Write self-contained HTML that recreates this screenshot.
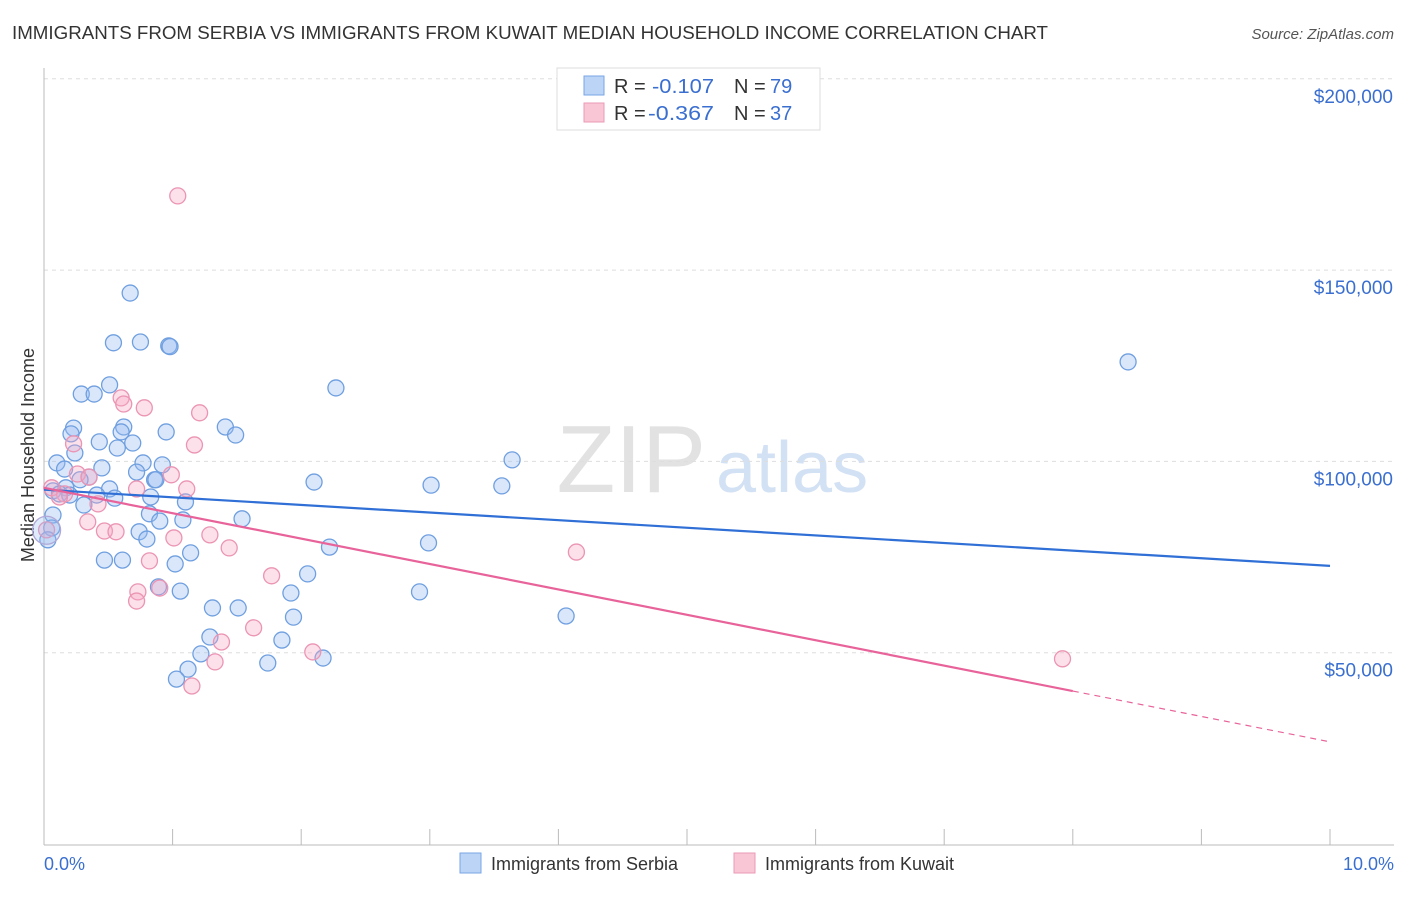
<!DOCTYPE html>
<html><head><meta charset="utf-8"><style>
body{margin:0;background:#fff;font-family:"Liberation Sans",sans-serif;}
svg text{font-family:"Liberation Sans",sans-serif;}
</style></head><body>
<svg id="chart" width="1406" height="892">
<text x="12" y="39" font-size="18" fill="#333" textLength="1036" lengthAdjust="spacingAndGlyphs">IMMIGRANTS FROM SERBIA VS IMMIGRANTS FROM KUWAIT MEDIAN HOUSEHOLD INCOME CORRELATION CHART</text>
<text x="1394" y="39" font-size="15" fill="#555" font-style="italic" text-anchor="end">Source: ZipAtlas.com</text>
<text x="706" y="492" font-size="96" fill="#e2e2e2" text-anchor="end" font-family="Liberation Serif">ZIP</text>
<text x="716" y="492" font-size="72" fill="#d3e1f4">atlas</text>
<text transform="translate(34,455) rotate(-90)" font-size="18" fill="#333" text-anchor="middle">Median Household Income</text>
<g id="grid"></g><g id="pts"></g><g id="lines"></g>
<text x="44" y="870" font-size="18" fill="#3a6fd0">0.0%</text>
<text x="1394" y="870" font-size="18" fill="#3a6fd0" text-anchor="end">10.0%</text>
<g>
<rect x="557" y="68" width="263" height="62" fill="#fff" stroke="#ddd"/>
<rect x="584" y="76" width="20" height="19" fill="#bcd4f5" stroke="#7aa6e6"/>
<rect x="584" y="103" width="20" height="19" fill="#f9c6d6" stroke="#ea9ab5"/>
<text x="614" y="93" font-size="20" fill="#333">R = <tspan x="652" fill="#3a6fd0" textLength="62" lengthAdjust="spacingAndGlyphs">-0.107</tspan><tspan x="734">N = </tspan><tspan x="770" fill="#3a6fd0">79</tspan></text>
<text x="614" y="120" font-size="20" fill="#333">R = <tspan x="648" fill="#3a6fd0" textLength="66" lengthAdjust="spacingAndGlyphs">-0.367</tspan><tspan x="734">N = </tspan><tspan x="770" fill="#3a6fd0">37</tspan></text>
</g>
<g>
<rect x="460" y="853" width="21" height="20" fill="#bcd4f5" stroke="#7aa6e6"/>
<text x="491" y="870" font-size="18" fill="#333">Immigrants from Serbia</text>
<rect x="734" y="853" width="21" height="20" fill="#f9c6d6" stroke="#ea9ab5"/>
<text x="765" y="870" font-size="18" fill="#333">Immigrants from Kuwait</text>
</g>
</svg>
<script>
const yTicks=[50000,100000,150000,200000];
const yTickLabels=["$50,000","$100,000","$150,000","$200,000"];
const xTicks=[0,1,2,3,4,5,6,7,8,9,10];
const serbiaX=[0.67,0.54,0.75,0.97,0.98,0.51,0.29,0.39,2.27,8.43,0.23,0.21,0.62,0.60,0.95,1.41,1.49,0.43,0.69,0.57,0.24,0.10,0.16,0.45,0.77,0.92,0.72,3.64,0.35,0.28,0.86,0.87,2.10,3.01,3.56,0.17,0.51,0.07,0.12,0.20,0.41,0.83,0.55,1.10,0.31,0.82,0.07,1.08,0.90,1.54,0.74,0.80,0.06,0.03,2.99,2.22,1.14,0.47,0.61,1.02,2.05,0.89,1.06,1.92,2.92,1.31,1.51,1.94,4.06,1.29,1.85,1.22,2.17,1.74,1.12,1.03];
const serbiaY=[144000,131000,131200,130200,130000,120000,117600,117600,119200,126000,108700,107200,109000,107700,107700,109000,106900,105100,104800,103500,102200,99600,98000,98300,99600,99100,97200,100400,95900,95200,95200,95200,94600,93800,93600,93100,92800,92300,91500,91200,91200,90700,90400,89400,88600,86300,86000,84700,84400,85000,81600,79700,82600,79500,78700,77600,76100,74200,74200,73200,70600,67200,66100,65600,65900,61700,61700,59300,59600,54100,53300,49700,48600,47300,45700,43100];
const kuwaitX=[1.04,0.60,0.62,0.78,1.21,0.23,1.17,0.26,0.99,0.35,0.06,1.11,0.72,0.16,0.12,0.42,0.34,0.02,0.47,0.56,1.29,1.01,1.44,4.14,0.82,1.77,0.73,0.72,0.90,1.63,1.38,2.09,1.33,7.92,1.15];
const kuwaitY=[169400,116600,115000,114000,112700,104600,104300,96700,96500,95900,93100,92800,92800,91500,90700,88900,84200,82100,81800,81600,80800,80000,77400,76300,74000,70100,65900,63500,66900,56500,52800,50200,47600,48400,41300];
const serbiaTrend=[92600,72700];
const kuwaitTrend=[93100,26700];
const kuwaitSolidEnd=8;
const NS="http://www.w3.org/2000/svg";
const X=v=>44+v*128.6;
const Y=v=>844-v*191.3/50000;
function mk(tag,parent,attrs){const e=document.createElementNS(NS,tag);for(const k in attrs)e.setAttribute(k,attrs[k]);parent.appendChild(e);return e;}
const grid=document.getElementById('grid');
yTicks.forEach((t,i)=>{
 const l=mk('line',grid,{x1:44,x2:1394,y1:Y(t),y2:Y(t),stroke:'#ddd','stroke-dasharray':'4 4'});
 
 
 const tx=mk('text',grid,{x:1393,y:Y(t)+24,'font-size':19,fill:'#3a6fd0','text-anchor':'end'});
 tx.textContent=yTickLabels[i];
 
 
});
mk('line',grid,{x1:44,x2:44,y1:68,y2:845,stroke:'#bbb'});
mk('line',grid,{x1:44,x2:1394,y1:845,y2:845,stroke:'#bbb'});
xTicks.forEach(t=>{const l=mk('line',grid,{x1:X(t),x2:X(t),y1:829,y2:845,stroke:'#bbb'});
 
 });
const pts=document.getElementById('pts');
serbiaX.forEach((x,i)=>{const c=mk('circle',pts,{cx:X(x),cy:Y(serbiaY[i]),r:8,fill:'rgba(150,185,240,0.35)',stroke:'#6f9fe0','stroke-width':1.3});
 
 });
kuwaitX.forEach((x,i)=>{const c=mk('circle',pts,{cx:X(x),cy:Y(kuwaitY[i]),r:8,fill:'rgba(245,165,195,0.35)',stroke:'#eb94b3','stroke-width':1.3});
 
 });
const big=mk('circle',pts,{cx:X(0.02),cy:Y(82000),r:14,fill:'rgba(150,185,240,0.3)',stroke:'#b0a8d8','stroke-width':1.3});


const lines=document.getElementById('lines');
const sl=mk('line',lines,{x1:X(0),y1:Y(serbiaTrend[0]),x2:X(10),y2:Y(serbiaTrend[1]),stroke:'#2f6fd6','stroke-width':2.2});


const kAt=x=>kuwaitTrend[0]+(kuwaitTrend[1]-kuwaitTrend[0])*x/10;
const kl=mk('line',lines,{x1:X(0),y1:Y(kuwaitTrend[0]),x2:X(kuwaitSolidEnd),y2:Y(kAt(kuwaitSolidEnd)),stroke:'#e8639a','stroke-width':2.2});


const kd=mk('line',lines,{x1:X(kuwaitSolidEnd),y1:Y(kAt(kuwaitSolidEnd)),x2:X(10),y2:Y(kuwaitTrend[1]),stroke:'#e8639a','stroke-width':1.2,'stroke-dasharray':'6 5'});


</script>
</body></html>
